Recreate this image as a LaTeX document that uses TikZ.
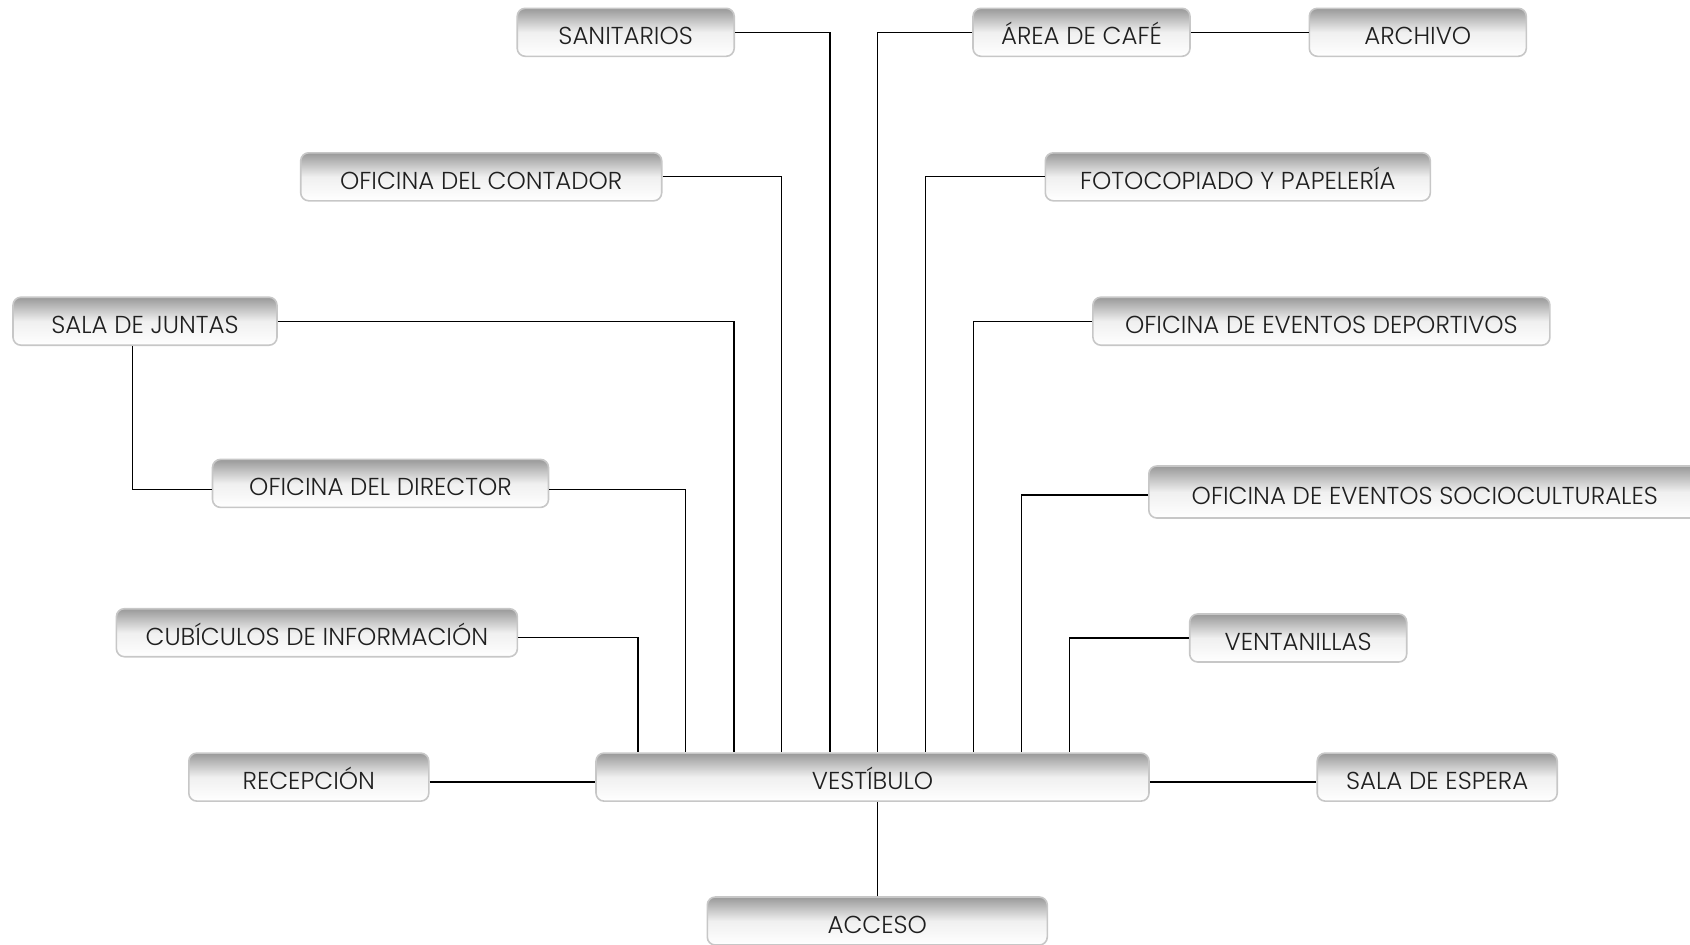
\documentclass[tikz,border=0pt]{standalone}
\usepackage{fontspec}
\setmainfont{Poppins Light}
\begin{document}
\begin{tikzpicture}[x=1pt,y=-1pt,
    every node/.style={draw=black!22,line width=1.6pt,rounded corners=8pt,
      top color=black!40,bottom color=white,middle color=black!6,
      minimum height=48pt,inner sep=0pt,text height=25pt,text depth=0pt,
      font=\fontsize{24.5}{29}\selectfont,text=black!88},
    link/.style={line width=1.3pt,black}]
    \useasboundingbox (0,0) rectangle (1690,945);
    % top row
    \node [minimum width=217pt] (sanit) at (625.7,32.3) {SANITARIOS};
    \node [minimum width=217pt] (cafe) at (1081.5,32.3) {ÁREA DE CAFÉ};
    \node [minimum width=217pt] (archivo) at (1417.8,32.3) {ARCHIVO};
    \node [minimum width=361pt] (contador) at (481.2,176.8) {OFICINA DEL CONTADOR};
    \node [minimum width=385pt] (fotocop) at (1237.8,176.8) {FOTOCOPIADO Y PAPELERÍA};
    \node [minimum width=264pt] (juntas) at (145,321.2) {SALA DE JUNTAS};
    \node [minimum width=457pt] (deportes) at (1321.4,321.2) {OFICINA DE EVENTOS DEPORTIVOS};
    \node [minimum width=336pt] (director) at (380.5,483.4) {OFICINA DEL DIRECTOR};
    \node [minimum width=552pt,minimum height=52pt] (socio) at (1424.8,492) {OFICINA DE EVENTOS SOCIOCULTURALES};
    \node [minimum width=401pt] (cubiculos) at (316.9,632.7) {CUBÍCULOS DE INFORMACIÓN};
    \node [minimum width=217pt] (ventan) at (1298.2,638) {VENTANILLAS};
    % bottom
    \node [minimum width=240pt] (recep) at (308.8,777.1) {RECEPCIÓN};
    \node [minimum width=553pt] (vest) at (872.5,777.1) {VESTÍBULO};
    \node [minimum width=240pt] (espera) at (1437.2,777.1) {SALA DE ESPERA};
    \node [minimum width=340pt] (acceso) at (877.3,921) {ACCESO};
    \draw [link] ([yshift=-5pt]recep.east) -- ([yshift=-5pt]vest.west);
    \draw [link] ([yshift=-5pt]vest.east) -- ([yshift=-5pt]espera.west);
    \draw [link] (acceso.north) -- (acceso.north |- vest.south);
    \draw [link] (cafe) -- (archivo);
    \draw [link] ([xshift=-12.4pt]juntas.south) |- ([yshift=-6pt]director.west);
    % left branches
    \draw [link] ([yshift=-5pt]cubiculos.east) -| ([xshift=-234.5pt]vest.north);
    \draw [link] ([yshift=-6pt]director.east) -| ([xshift=-187pt]vest.north);
    \draw [link] (juntas.east) -| ([xshift=-138.5pt]vest.north);
    \draw [link] (contador.east) -| ([xshift=-91.1pt]vest.north);
    \draw [link] (sanit.east) -| ([xshift=-42.6pt]vest.north);
    % right branches
    \draw [link] (cafe.west) -| ([xshift=4.8pt]vest.north);
    \draw [link] (fotocop.west) -| ([xshift=53.3pt]vest.north);
    \draw [link] (deportes.west) -| ([xshift=100.7pt]vest.north);
    \draw [link] ([yshift=-3pt]socio.west) -| ([xshift=149.2pt]vest.north);
    \draw [link] (ventan.west) -| ([xshift=196.7pt]vest.north);
\end{tikzpicture}
\end{document}
